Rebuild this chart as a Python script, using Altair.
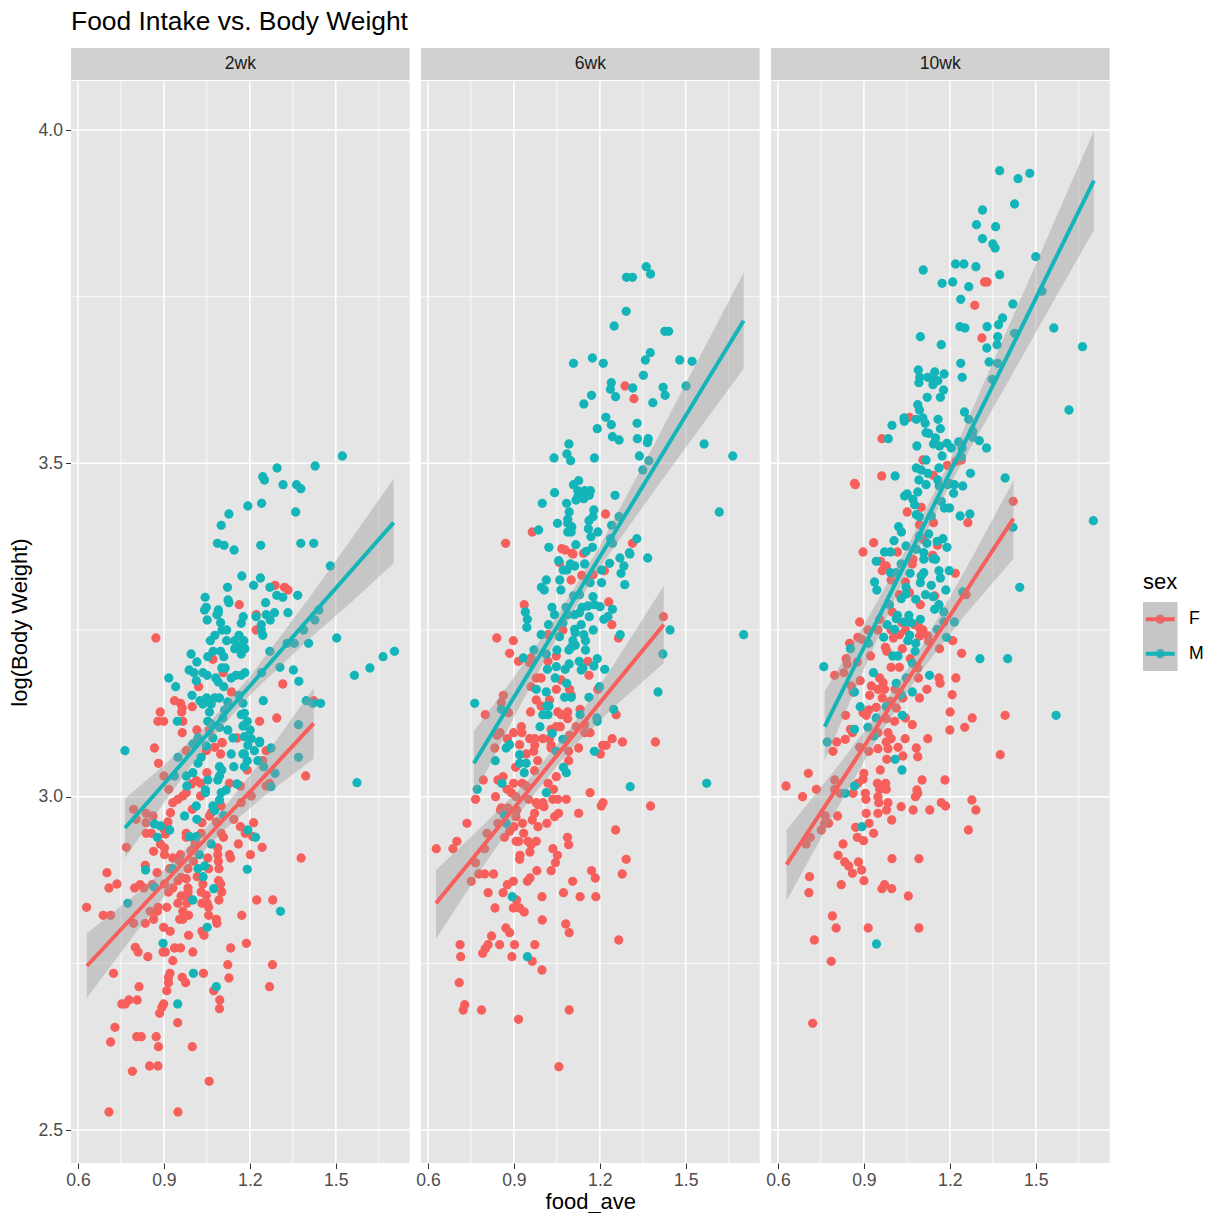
import altair as alt
import pandas as pd

TITLE = "Food Intake vs. Body Weight"
WEEKS = ["2wk", "6wk", "10wk"]
SEXES = ["F", "M"]
COLORS = ["#F65F5B", "#14B5B9"]
X_MAJOR = [0.6, 0.9, 1.2, 1.5]
X_MINOR = [0.75, 1.05, 1.35, 1.65]
Y_MAJOR = [2.5, 3.0, 3.5, 4.0]
Y_MINOR = [2.75, 3.25, 3.75]

m_2wk = [(1.523,3.511),(1.428,3.496),(1.295,3.493),(1.245,3.48),(1.251,3.475),(1.316,3.468),(1.363,3.468),(1.378,3.462),(1.193,3.436),(1.241,3.44),(1.127,3.424),(1.1,3.407),(1.36,3.427),(1.087,3.38),(1.11,3.377),(1.145,3.37),(1.238,3.377),(1.378,3.38),(1.423,3.38),(1.481,3.346),(1.172,3.331),(1.237,3.328),(1.213,3.317),(1.122,3.314),(1.27,3.314),(1.044,3.299),(1.294,3.302),(1.315,3.299),(1.367,3.302),(1.124,3.295),(1.127,3.291),(1.255,3.291),(1.048,3.284),(1.042,3.28),(1.09,3.28),(1.085,3.273),(1.09,3.276),(1.441,3.28),(1.333,3.276),(1.286,3.276),(1.257,3.273),(1.177,3.27),(1.222,3.27),(1.271,3.265),(1.051,3.265),(1.17,3.26),(1.098,3.261),(1.427,3.265),(1.24,3.258),(1.103,3.25),(1.119,3.25),(1.24,3.25),(1.388,3.25),(1.078,3.242),(1.245,3.242),(1.162,3.242),(1.062,3.234),(1.119,3.234),(1.147,3.234),(1.179,3.234),(1.503,3.238),(1.33,3.23),(1.355,3.23),(1.405,3.23),(1.147,3.222),(1.183,3.222),(1.162,3.225),(1.27,3.218),(0.995,3.214),(1.072,3.218),(1.098,3.218),(1.17,3.214),(1.053,3.21),(1.109,3.21),(1.705,3.218),(1.665,3.21),(1.015,3.202),(1.619,3.193),(1.565,3.182),(1.102,3.193),(1.114,3.193),(1.305,3.194),(1.352,3.19),(0.988,3.19),(1.005,3.186),(1.036,3.186),(1.051,3.182),(1.183,3.186),(1.241,3.186),(1.152,3.182),(1.17,3.182),(0.917,3.178),(1.081,3.178),(1.135,3.178),(1.013,3.174),(1.371,3.173),(1.09,3.172),(0.941,3.165),(1.109,3.165),(1.162,3.152),(0.998,3.152),
(1.026,3.144),(1.049,3.148),(1.077,3.148),(1.094,3.148),(1.036,3.139),(1.065,3.139),(1.059,3.127),(1.123,3.142),(1.176,3.14),(1.247,3.144),(1.397,3.144),(1.42,3.14),(1.447,3.14),(1.112,3.13),(1.17,3.123),(1.181,3.125),(0.947,3.113),(1.053,3.113),(1.106,3.118),(1.191,3.113),(1.37,3.108),(1.065,3.109),(1.176,3.106),(1.094,3.104),(1.123,3.1),(1.201,3.1),(1.019,3.088),(1.071,3.088),(1.141,3.088),(1.181,3.09),(1.205,3.087),(1.234,3.083),
(0.764,3.069),(0.949,3.059),(1.048,3.076),(1.001,3.079),(1.274,3.073),(1.193,3.077),(1.234,3.081),(1.135,3.064),(1.176,3.064),(1.181,3.064),(1.216,3.069),(1.03,3.059),(1.019,3.05),(1.191,3.054),(1.228,3.054),(1.144,3.045),(1.094,3.045),(1.181,3.045),(1.248,3.045),(1.37,3.059),(1.574,3.021),(1.102,3.04),(1.001,3.036),(0.978,3.031),(0.937,3.031),(1.288,3.035),(1.094,3.031),(1.088,3.025),(1.053,3.025),(1.155,3.019),(0.98,3.016),(1.274,3.015),(1.045,3.01),(1.117,3.01),(1.1,3.006),(1.045,3.006),(1.094,2.995),(1.071,2.986),(1.013,2.986),(0.972,2.971),(1.015,2.966),(1.077,2.979),(1.108,2.972),(0.867,2.959),(0.888,2.956),(0.92,2.95),(0.877,2.939),(0.99,2.94),(1.013,2.94),(1.193,2.95),(1.22,2.939),(1.065,2.929),(1.024,2.913),(0.836,2.89),(0.931,2.892),(1.019,2.892),(1.042,2.896),(1.191,2.891),(1.037,2.88),(0.867,2.864),(1.074,2.862),(0.774,2.84),(1.001,2.845),(1.307,2.828),(1.051,2.804),(0.897,2.78),(1.003,2.735),(1.083,2.715),(0.948,2.689)]

f_2wk = [(0.872,3.238),(1.163,3.288),(1.222,3.273),(1.222,3.25),(1.288,3.317),(1.321,3.314),(1.333,3.31),(1.071,3.206),(1.107,3.186),(1.021,3.165),(1.315,3.169),(1.136,3.157),(1.423,3.144),(0.937,3.144),(0.958,3.14),(0.964,3.133),(0.962,3.127),(0.999,3.135),(0.887,3.127),(0.879,3.113),(0.899,3.113),(0.966,3.113),(1.234,3.113),(1.294,3.118),(1.015,3.1),(0.964,3.096),(1.059,3.1),(1.103,3.081),(1.156,3.088),
(0.867,3.073),(0.881,3.05),(0.9,3.031),(0.978,3.069),(1.048,3.069),(1.077,3.074),(1.098,3.064),(1.103,3.081),(1.191,3.04),(1.257,3.069),(1.245,3.054),(1.395,3.031),(1.05,3.036),(1.013,3.024),(0.996,3.019),(1.028,3.02),(1.129,3.02),(1.167,3.016),(1.269,3.02),(1.257,3.016),(0.917,3.011),(0.978,3.006),(0.966,3.001),(0.949,2.996),(0.931,2.991),(1.028,3.001),(1.205,3.001),(1.17,2.991),(0.794,2.981),(0.838,2.975),(0.862,2.971),(0.923,2.976),(0.999,2.981),(1.065,2.976),(1.1,2.986),(1.059,2.971),(0.803,2.966),(0.838,2.961),(0.914,2.962),(1.033,2.961),(1.083,2.962),(1.144,2.966),(1.213,2.961),(1.167,2.955),(0.902,2.95),(0.905,2.944),(0.838,2.945),(0.856,2.945),(0.978,2.945),(0.978,2.939),(1.03,2.945),(1.1,2.945),(1.184,2.945),(1.21,2.94),(1.108,2.939),(1.009,2.934),(0.769,2.924),(0.888,2.929),(0.902,2.923),(1.009,2.928),(1.16,2.929),(1.243,2.924),(1.088,2.923),(0.995,2.919),(0.864,2.918),(0.902,2.913),(1.088,2.913),(1.129,2.913),(1.202,2.913),(1.379,2.908),(0.958,2.913),(0.931,2.908),(1.053,2.908),(1.133,2.908),(0.955,2.903),(1.09,2.903),(1.003,2.903),(1.092,2.892),(0.835,2.897),(0.92,2.892),(0.984,2.892),(1.056,2.892),(0.701,2.886),(0.876,2.886),(0.96,2.879),(1.016,2.88),(0.949,2.874),(0.978,2.877),(1.091,2.874),(0.736,2.869),(0.708,2.863),(0.798,2.863),(0.817,2.868),(0.83,2.863),(0.859,2.868),(1.036,2.869),(0.902,2.869),(0.931,2.863),(0.984,2.863),(1.098,2.869),(0.916,2.857),(0.984,2.857),(1.03,2.857),(1.102,2.857),(0.96,2.851),(1.048,2.852),(0.984,2.851),(1.092,2.845),(1.224,2.845),(1.28,2.845),(0.63,2.834),(0.949,2.84),(0.98,2.84),(1.033,2.84),(1.051,2.84),(0.91,2.834),(0.879,2.834),(1.056,2.834),(0.852,2.828),(0.877,2.828),(0.966,2.828),(0.688,2.822),(0.714,2.822),(0.986,2.822),(1.056,2.822),(1.172,2.822),(0.966,2.816),(0.955,2.816),(1.083,2.816),(0.794,2.81),(0.835,2.81),(0.864,2.816),(1.085,2.81),(0.899,2.804),(0.922,2.798),(1.033,2.798),(0.986,2.792),(1.04,2.792),(1.188,2.78),(0.8,2.774),(0.81,2.767),(0.844,2.76),(0.897,2.767),(0.905,2.767),(0.937,2.773),(0.958,2.773),(1.133,2.773),(1.001,2.767),(0.931,2.754),(1.123,2.748),(1.279,2.748),(0.724,2.735),(0.921,2.735),(0.916,2.729),(0.916,2.721),(1.038,2.735),(0.964,2.729),(0.976,2.721),(1.127,2.728),(0.813,2.715),(0.91,2.709),(1.269,2.715),(1.074,2.709),(1.095,2.695),(1.094,2.682),(0.807,2.695),(0.778,2.695),(0.753,2.689),(0.765,2.689),(0.899,2.689),(0.893,2.684),(0.885,2.675),(0.948,2.661),(0.729,2.654),(0.805,2.64),(0.821,2.64),(0.873,2.64),(0.714,2.632),(0.881,2.625),(0.999,2.625),(0.85,2.596),(0.879,2.596),(0.79,2.588),(1.058,2.573),(0.708,2.527),(0.949,2.527)]

m_6wk = [(1.362,3.795),(1.377,3.784),(1.293,3.779),(1.314,3.779),(1.292,3.728),(1.25,3.706),(1.427,3.698),(1.44,3.698),(1.376,3.666),(1.359,3.655),(1.479,3.655),(1.522,3.653),(1.108,3.65),(1.174,3.658),(1.212,3.65),(1.352,3.632),(1.24,3.621),(1.237,3.611),(1.315,3.613),(1.421,3.614),(1.501,3.616),(1.428,3.602),(1.255,3.6),(1.171,3.602),(1.144,3.589),(1.385,3.591),(1.221,3.569),(1.24,3.558),(1.33,3.56),(1.191,3.552),(1.244,3.54),(1.267,3.535),(1.331,3.537),(1.369,3.537),(1.366,3.531),(1.092,3.529),(1.564,3.529),(1.085,3.514),(1.04,3.508),(1.098,3.504),(1.181,3.508),(1.338,3.511),(1.664,3.511),(1.371,3.504),(1.35,3.49),(1.126,3.474),(1.108,3.468),(1.123,3.459),(1.147,3.459),(1.167,3.459),(1.042,3.456),(1.253,3.452),(1.163,3.452),(1.144,3.447),(1.117,3.445),(1.123,3.45),(0.999,3.44),(1.084,3.44),(1.617,3.427),(1.093,3.427),(1.179,3.43),(1.176,3.42),(1.162,3.414),(1.267,3.42),(1.088,3.416),(1.052,3.41),(1.088,3.41),(1.102,3.405),(1.241,3.407),(0.986,3.4),(1.16,3.402),(1.088,3.397),(1.1,3.397),(1.193,3.397),(1.169,3.39),(1.237,3.387),(1.329,3.387),(1.244,3.38),(1.116,3.378),(1.022,3.374),(1.174,3.374),(1.303,3.366),(1.152,3.368),
(1.305,3.364),(1.367,3.358),(1.27,3.358),(1.284,3.346),(1.056,3.354),(1.234,3.35),(1.147,3.349),(1.097,3.349),(1.112,3.346),(1.072,3.34),(1.085,3.34),(1.205,3.34),(1.274,3.335),(1.013,3.325),(1.06,3.325),(1.206,3.321),(1.166,3.321),(1.287,3.318),(0.996,3.314),(1.006,3.31),(1.064,3.31),(1.108,3.301),(1.129,3.303),(1.176,3.3),(1.033,3.284),(1.082,3.284),(1.138,3.284),(1.158,3.286),(1.181,3.288),(1.201,3.285),(1.244,3.281),(0.94,3.277),(1.042,3.273),(1.088,3.273),(1.112,3.273),(1.129,3.276),(1.163,3.27),(0.947,3.266),(1.228,3.27),(1.214,3.266),(1.021,3.258),(1.135,3.258),(1.071,3.261),(0.945,3.254),(1.112,3.251),(1.177,3.25),(1.445,3.25),(1.114,3.246),(1.271,3.243),(1.702,3.243),(0.995,3.243),(1.059,3.24),(1.144,3.243),(1.106,3.234),(1.15,3.234),(1.114,3.227),(1.1,3.224),(1.092,3.22),(1.15,3.22),(0.97,3.22),(1.05,3.22),(1.013,3.214),(1.42,3.214),(0.933,3.208),(1.191,3.207),(1.128,3.203),(1.093,3.199),(1.079,3.191),(1.048,3.195),(1.017,3.191),(1.141,3.193),(1.135,3.19),(1.179,3.196),(1.217,3.191),(1.044,3.178),(1.084,3.17),(1.199,3.165),(0.978,3.161),(1.013,3.157),(1.403,3.157),(1.162,3.149),(1.077,3.149),(1.1,3.149),(0.763,3.14),(1.015,3.136),(1.022,3.136),(0.856,3.131),(1.248,3.131),(1.131,3.123),(1.001,3.123),(1.019,3.123),(1.19,3.118),(1.191,3.113),(0.991,3.105),(1.034,3.095),(1.071,3.086),(0.885,3.078),(0.873,3.073),(1.048,3.068),(1.181,3.068),(0.92,3.063),(0.835,3.054),(0.92,3.05),(0.943,3.05),(1.073,3.044),(1.083,3.036),(0.936,3.036),(0.858,3.02),(1.573,3.02),(1.306,3.015),(0.772,3.011),(1.013,3.006),(0.867,2.972),(0.873,2.96),(0.894,2.85),(0.947,2.76)]

f_6wk = [(1.288,3.616),(1.319,3.597),(1.22,3.424),(0.964,3.397),(0.871,3.38),(1.314,3.38),(1.067,3.372),(1.079,3.37),(1.103,3.365),(1.143,3.365),
(1.106,3.364),(1.059,3.351),(1.216,3.339),(1.137,3.332),(1.1,3.325),(1.176,3.333),(1.231,3.292),(0.936,3.288),(1.422,3.27),(1.242,3.258),(1.071,3.25),(0.84,3.238),(0.898,3.234),(1.265,3.238),(1.019,3.243),(0.885,3.215),(1.048,3.211),(0.916,3.203),(0.96,3.208),(1.019,3.203),(0.955,3.201),(1.158,3.203),(1.162,3.182),(0.978,3.178),(0.995,3.178),(1.065,3.175),(0.96,3.165),(1.048,3.161),(1.094,3.161),(1.193,3.161),(1.1,3.152),(0.863,3.152),(0.978,3.145),(1.024,3.145),(0.856,3.141),(0.995,3.136),(0.881,3.126),(0.958,3.127),(0.8,3.123),(1.053,3.127),(1.131,3.131),(1.257,3.123),(1.065,3.123),(1.088,3.127),(1.088,3.117),(0.926,3.105),(1.03,3.101),(1.048,3.105),(1.062,3.105),(1.117,3.105),(1.147,3.108),(0.852,3.096),(0.841,3.092),(0.899,3.096),(0.928,3.096),(1.147,3.096),(1.166,3.096),(1.094,3.092),(0.877,3.087),(0.955,3.087),(0.973,3.087),(1.001,3.087),(1.024,3.087),(1.243,3.087),(1.279,3.082),(1.394,3.082),(0.92,3.078),(0.973,3.077),(1.03,3.077),(1.21,3.077),(1.222,3.077),(0.833,3.073),(1.03,3.073),(0.969,3.068),(1.091,3.068),(1.126,3.073),(0.943,3.064),(1.202,3.064),(0.983,3.054),(1.091,3.054),(0.906,3.044),(0.972,3.039),(1.048,3.03),(0.862,3.03),(0.844,3.025),(0.793,3.025),(0.899,3.02),(0.929,3.02),(1.019,3.02),(0.876,3.011),(0.943,3.016),(1.038,3.011),(0.891,3.006),(1.166,3.006),(0.836,3.0),(0.766,2.996),(0.907,3.0),(0.951,2.996),(1.036,2.996),(1.053,2.996),(1.083,2.996),(0.978,2.991),(1.001,2.991),(1.211,2.991),(1.205,2.986),(1.377,2.986),(0.856,2.983),(0.879,2.983),(0.984,2.988),(1.005,2.985),
(0.736,2.96),(0.853,2.98),(0.879,2.98),(0.91,2.98),(0.972,2.975),(1.042,2.97),(1.056,2.975),(1.126,2.975),(0.907,2.97),(0.964,2.965),(0.844,2.96),(0.93,2.96),(0.984,2.955),(1.015,2.96),(0.9,2.955),(0.885,2.948),(0.806,2.945),(0.934,2.945),(1.255,2.95),(1.087,2.939),(0.867,2.939),(0.701,2.933),(0.908,2.933),(0.917,2.933),(0.949,2.933),(0.978,2.933),(0.96,2.928),(1.091,2.928),(0.629,2.922),(0.687,2.922),(0.798,2.922),(1.036,2.922),(0.956,2.917),(1.052,2.912),(0.921,2.912),(0.92,2.906),(1.292,2.906),(1.045,2.901),(0.766,2.901),(0.777,2.884),(0.798,2.884),(0.829,2.884),(0.98,2.889),(1.03,2.889),(1.171,2.889),(1.278,2.884),(0.956,2.878),(0.947,2.873),(1.184,2.878),(0.751,2.873),(0.898,2.873),(0.877,2.868),(1.105,2.873),(0.81,2.856),(0.862,2.856),(1.073,2.856),(0.998,2.85),(1.131,2.85),(1.186,2.85),(0.909,2.845),(0.834,2.833),(0.898,2.833),(0.92,2.833),(0.936,2.827),(0.999,2.815),(1.081,2.809),(0.872,2.803),(0.885,2.796),(1.093,2.796),(0.822,2.791),(1.266,2.785),(0.712,2.778),(0.81,2.778),(0.85,2.778),(0.902,2.778),(0.973,2.778),(0.8,2.772),(0.791,2.765),(0.714,2.76),(0.893,2.76),(0.964,2.753),(0.998,2.74),(0.709,2.721),(0.728,2.688),(0.723,2.68),(0.787,2.68),(1.093,2.68),(0.916,2.666),(1.057,2.595)]

m_10wk = [(1.374,3.939),(1.438,3.927),(1.479,3.935),(1.426,3.889),(1.314,3.88),(1.293,3.858),(1.36,3.855),(1.314,3.837),(1.35,3.829),(1.358,3.823),(1.5,3.81),(1.22,3.799),(1.249,3.799),(1.291,3.795),(1.107,3.79),(1.374,3.783),(1.21,3.772),(1.173,3.77),(1.266,3.765),(1.522,3.758),(1.238,3.746),(1.42,3.739),(1.384,3.718),(1.37,3.708),(1.235,3.705),(1.253,3.703),(1.33,3.705),(1.563,3.703),(1.426,3.695),(1.367,3.69),(1.097,3.69),(1.17,3.678),(1.365,3.678),(1.329,3.673),(1.663,3.675),(1.238,3.65),(1.337,3.652),(1.367,3.65),(1.09,3.64),(1.147,3.637),(1.18,3.634),(1.095,3.629),(1.123,3.629),(1.243,3.629),(1.348,3.626),(1.092,3.621),(1.141,3.625),(1.158,3.624),(1.141,3.618),(1.178,3.61),(1.121,3.599),(1.167,3.599),(1.088,3.588),(1.094,3.58),(1.616,3.58),(1.251,3.577),(1.04,3.568),(1.041,3.563),(1.083,3.566),(1.106,3.568),(1.114,3.56),(1.159,3.566),(1.266,3.566),(1.167,3.552),(0.998,3.557),(1.117,3.546),(1.126,3.545),(1.28,3.548),(0.985,3.537),(1.15,3.538),(1.28,3.539),(1.303,3.534),(1.231,3.532),(1.19,3.53),(1.143,3.529),(1.164,3.526),(1.085,3.526),(1.205,3.523),(1.243,3.523),(1.328,3.523),(1.173,3.511),(1.117,3.505),(1.24,3.51),(1.083,3.493),(1.1,3.49),(1.123,3.485),(1.162,3.493),(1.272,3.485),(1.009,3.481),(1.393,3.478),(1.092,3.475),(1.158,3.475),(1.199,3.47),
(1.088,3.457),(1.042,3.451),(1.051,3.454),(1.117,3.468),(1.163,3.466),(1.193,3.468),(1.216,3.468),(1.245,3.466),(1.213,3.455),(1.071,3.446),(1.077,3.438),(1.17,3.443),(1.181,3.433),(1.199,3.433),(1.083,3.423),(1.094,3.42),(1.135,3.421),(1.236,3.421),(1.27,3.424),(1.021,3.405),(1.031,3.397),(1.42,3.404),(1.126,3.394),(1.094,3.391),(1.701,3.414),(1.005,3.384),(1.176,3.387),(1.156,3.383),(1.12,3.38),(1.047,3.376),(1.19,3.374),(0.972,3.367),(0.993,3.367),(1.083,3.371),(1.109,3.366),(1.109,3.356),(0.943,3.353),(1.141,3.357),(1.15,3.356),(1.03,3.349),(1.162,3.339),(1.198,3.339),(0.993,3.336),(1.013,3.336),(1.061,3.335),(1.109,3.336),(1.1,3.331),(1.167,3.328),(0.937,3.322),(1.097,3.321),(1.135,3.317),(1.047,3.314),(1.444,3.314),(0.945,3.31),(1.186,3.31),(1.245,3.307),(1.047,3.304),(1.03,3.297),(1.115,3.303),(1.141,3.3),(1.081,3.296),(0.989,3.288),(1.162,3.288),(1.147,3.281),(1.179,3.277),(1.017,3.272),(1.013,3.267),(1.057,3.272),(1.097,3.266),(1.042,3.262),(1.065,3.261),(1.216,3.262),(1.179,3.262),(0.981,3.258),(1.007,3.251),(1.156,3.251),(0.969,3.239),(1.06,3.242),(1.053,3.234),(1.188,3.239),(1.081,3.23),(0.916,3.23),(0.853,3.222),(1.079,3.218),(1.001,3.211),(1.019,3.211),(1.305,3.207),(1.402,3.207),(1.069,3.2),(0.76,3.195),(0.933,3.186),(1.129,3.182),(1.048,3.178),(1.013,3.17),(0.867,3.157),(1.069,3.157),(1.03,3.153),(0.887,3.135),(0.978,3.135),(1.034,3.122),(0.943,3.118),(1.571,3.122),(0.914,3.104),(0.867,3.101),(0.935,3.091),(0.772,3.082),(1.009,3.056),(1.033,3.04),(0.867,3.016),(0.835,3.005),(0.893,2.955),(0.944,2.779)]

f_10wk = [(1.321,3.772),(1.33,3.772),(1.287,3.737),(1.312,3.688),(1.059,3.569),(0.963,3.537),(1.106,3.505),(1.24,3.505),(1.222,3.503),(1.191,3.497),(1.142,3.482),(0.962,3.481),(0.867,3.47),
(0.87,3.468),(1.421,3.443),(1.051,3.427),(1.1,3.434),(1.094,3.408),(1.263,3.411),(1.143,3.411),(0.934,3.381),(1.106,3.386),(1.157,3.377),(0.897,3.367),(1.017,3.367),(1.14,3.362),(1.071,3.356),(1.069,3.349),(0.958,3.353),(0.978,3.346),(0.964,3.339),(1.219,3.335),(0.995,3.325),(1.045,3.322),(1.024,3.303),(1.059,3.306),(1.257,3.303),(1.147,3.301),(1.097,3.288),(0.999,3.277),(0.955,3.266),(0.885,3.262),(1.077,3.258),(1.094,3.253),(1.106,3.25),(1.033,3.261),(0.914,3.25),(0.949,3.25),(0.995,3.25),(1.045,3.25),(0.879,3.239),(0.893,3.236),(1.024,3.243),(1.003,3.238),(1.094,3.241),(1.123,3.241),(0.85,3.23),(1.21,3.234),(0.975,3.224),(0.98,3.218),(1.034,3.222),(1.126,3.233),(1.164,3.222),(0.923,3.211),(1.241,3.215),(0.838,3.207),(0.842,3.199),(0.877,3.202),(1.062,3.207),(0.995,3.194),(1.024,3.194),(1.088,3.193),(0.798,3.182),(0.83,3.186),(0.887,3.174),(0.955,3.178),(0.967,3.171),(1.162,3.178),(1.166,3.17),(1.09,3.178),(1.221,3.178),(0.856,3.166),(0.926,3.166),(0.949,3.161),(0.972,3.161),(0.862,3.157),(0.92,3.152),(0.964,3.148),(1.12,3.161),(1.009,3.161),(1.208,3.153),(1.094,3.148),(1.036,3.148),(0.992,3.143),(0.943,3.134),(0.917,3.13),(0.897,3.126),(0.908,3.122),(1.013,3.133),(1.201,3.127),(1.393,3.122),(0.836,3.122),(1.278,3.118),(0.978,3.117),(1.007,3.113),(1.045,3.118),(1.069,3.108),(1.252,3.104),(1.2,3.1),(0.853,3.101),(0.86,3.096),(0.949,3.096),(0.984,3.096),(0.835,3.086),(0.805,3.082),(1.123,3.087),(0.995,3.087),(1.044,3.087),(0.978,3.082),(0.792,3.068),(0.885,3.074),(0.949,3.072),(0.984,3.072),(1.019,3.074),(1.083,3.073),(0.917,3.068),(1.376,3.063),(1.036,3.061),(1.088,3.06),(0.98,3.056),
(0.706,3.035),(0.957,3.04),(0.9,3.035),(0.897,3.026),(0.798,3.025),(1.103,3.025),(1.183,3.025),(0.628,3.016),(0.734,3.011),(0.798,3.011),(0.947,3.02),(0.976,3.02),(0.879,3.02),(0.978,3.011),(0.955,3.011),(1.085,3.01),(1.088,3.005),(0.686,3.0),(0.817,3.005),(0.862,3.005),(0.905,3.005),(1.08,3.0),(0.949,3.0),(1.277,2.995),(0.907,2.996),(0.984,2.991),(0.952,2.991),(1.17,2.991),(1.185,2.986),(1.03,2.985),(0.979,2.98),(1.072,2.98),(1.13,2.98),(1.291,2.98),(0.908,2.975),(0.949,2.975),(0.765,2.971),(0.808,2.971),(0.997,2.965),(0.777,2.96),(0.763,2.96),(0.918,2.96),(0.871,2.954),(0.751,2.95),(1.265,2.95),(0.934,2.945),(0.713,2.939),(0.877,2.939),(0.899,2.934),(0.698,2.929),(0.827,2.929),(0.81,2.912),(0.998,2.907),(1.092,2.907),(0.833,2.902),(0.847,2.896),(0.881,2.902),(0.892,2.89),(0.86,2.885),(0.71,2.88),(0.9,2.874),(0.821,2.868),(0.972,2.868),(0.963,2.862),(0.997,2.862),(0.708,2.856),(1.055,2.851),(0.79,2.821),(0.803,2.803),(0.915,2.803),(1.092,2.803),(0.727,2.785),(0.786,2.753),(0.721,2.66)]

POINTS = {"2wk": {"F": f_2wk, "M": m_2wk}, "6wk": {"F": f_6wk, "M": m_6wk}, "10wk": {"F": f_10wk, "M": m_10wk}}

fit_2wk_f = ([.631,.8,.95,1.1,1.25,1.423],[2.746,2.824,2.893,2.962,3.03,3.11],[2.698,2.795,2.877,2.946,3.001,3.057],[2.795,2.853,2.909,2.978,3.059,3.163])
fit_2wk_m = ([.764,.9,1.05,1.2,1.4,1.55,1.702],[2.953,3.019,3.093,3.166,3.264,3.337,3.411],[2.908,2.991,3.079,3.152,3.234,3.29,3.35],[2.997,3.047,3.107,3.18,3.294,3.384,3.477])
fit_6wk_f = ([.628,.8,.95,1.1,1.25,1.423],[2.84,2.93,3.009,3.088,3.167,3.258],[2.787,2.9,2.993,3.072,3.135,3.2],[2.89,2.96,3.025,3.104,3.199,3.316])
fit_6wk_m = ([.76,.9,1.05,1.2,1.4,1.55,1.702],[3.05,3.149,3.254,3.36,3.501,3.607,3.714],[3.0,3.119,3.238,3.344,3.465,3.553,3.642],[3.098,3.179,3.27,3.376,3.537,3.661,3.786])
fit_10wk_f = ([.63,.8,.95,1.1,1.25,1.422],[2.898,3.009,3.108,3.206,3.304,3.417],[2.844,2.977,3.09,3.188,3.271,3.357],[2.95,3.041,3.126,3.224,3.337,3.474])
fit_10wk_m = ([.763,.9,1.05,1.2,1.4,1.55,1.703],[3.105,3.224,3.355,3.486,3.66,3.791,3.924],[3.054,3.191,3.337,3.468,3.62,3.734,3.85],[3.158,3.257,3.373,3.504,3.7,3.848,3.999])
FITS = {"2wk": {"F": fit_2wk_f, "M": fit_2wk_m}, "6wk": {"F": fit_6wk_f, "M": fit_6wk_m}, "10wk": {"F": fit_10wk_f, "M": fit_10wk_m}}

FONT = "Liberation Sans"
W = 338.67
H = 1082
XDOM = [0.5756, 1.758]
YDOM = [2.4505, 4.0735]
xs = alt.Scale(domain=XDOM, nice=False, zero=False)
ys = alt.Scale(domain=YDOM, nice=False, zero=False)
color = alt.Color("sex:N", scale=alt.Scale(domain=SEXES, range=COLORS), legend=None)


def panel(week, idx):
    pts = pd.DataFrame([{"food": a, "logw": b, "sex": s} for s in SEXES for a, b in POINTS[week][s]])
    fit = pd.DataFrame([{"food": a, "fit": b, "lo": c, "hi": d, "sex": s}
                        for s in SEXES for a, b, c, d in zip(*FITS[week][s])])
    x_axis = alt.Axis(values=X_MAJOR, format=".1f", grid=False, domain=False, tickColor="#333333",
                      tickSize=5.5, tickWidth=1, labelColor="#4D4D4D", labelFontSize=17.6,
                      labelFont=FONT, labelPadding=3,
                      title="food_ave" if idx == 1 else "", titleFont=FONT, titleFontSize=22,
                      titleFontWeight="normal", titleColor="#000000", titlePadding=2)
    y_axis = None
    if idx == 0:
        y_axis = alt.Axis(values=Y_MAJOR, format=".1f", grid=False, domain=False, tickColor="#333333",
                          tickSize=5.5, tickWidth=1, labelColor="#4D4D4D", labelFontSize=17.6,
                          labelFont=FONT, labelPadding=3, title="log(Body Weight)", titleFont=FONT,
                          titleFontSize=22, titleFontWeight="normal", titleColor="#000000", titlePadding=7)
    ex = lambda f: alt.X(f, scale=xs, axis=x_axis)
    ey = lambda f: alt.Y(f, scale=ys, axis=y_axis)
    gx_minor = alt.Chart(pd.DataFrame({"v": X_MINOR})).mark_rule(color="white", strokeWidth=0.75).encode(x=ex("v:Q"))
    gx_major = alt.Chart(pd.DataFrame({"v": X_MAJOR})).mark_rule(color="white", strokeWidth=1.5).encode(x=ex("v:Q"))
    gy_minor = alt.Chart(pd.DataFrame({"v": Y_MINOR})).mark_rule(color="white", strokeWidth=0.75).encode(y=ey("v:Q"))
    gy_major = alt.Chart(pd.DataFrame({"v": Y_MAJOR})).mark_rule(color="white", strokeWidth=1.5).encode(y=ey("v:Q"))
    dots = alt.Chart(pts).mark_circle(size=86, opacity=1).encode(x=ex("food:Q"), y=ey("logw:Q"), color=color)
    band = alt.Chart(fit).mark_area(color="#999999", opacity=0.4).encode(
        x=ex("food:Q"), y=ey("lo:Q"), y2="hi:Q", detail="sex:N")
    line = alt.Chart(fit).mark_line(strokeWidth=4, strokeCap="butt").encode(
        x=ex("food:Q"), y=ey("fit:Q"), color=color)
    return alt.layer(gx_minor, gx_major, gy_minor, gy_major, dots, band, line).properties(
        width=W, height=H, view=alt.ViewBackground(fill="#E5E5E5", strokeWidth=0))


def strip(week):
    return alt.Chart(pd.DataFrame({"week": [week]})).mark_text(
        font=FONT, fontSize=17.6, color="#1A1A1A", baseline="middle").encode(text="week:N").properties(
        width=W, height=32, view=alt.ViewBackground(fill="#D1D1D1", strokeWidth=0))


def column(i, week):
    return alt.vconcat(strip(week), panel(week, i), spacing=0)


KEY_START = [0.08, 0.08]
KEY_END = [0.92, 0.92]
key_df = pd.DataFrame({"sex": SEXES, "a": KEY_START, "b": KEY_END})
kx = alt.Scale(domain=[0, 1], nice=False, zero=False)
ky = alt.Scale(domain=SEXES, paddingInner=0, paddingOuter=0)
ky_enc = alt.Y("sex:N", scale=ky, axis=alt.Axis(orient="right", title=None, domain=False, ticks=False, labelAngle=0,
                                                labelFont=FONT, labelFontSize=17.6, labelColor="#000000", labelPadding=11))
key_bg = alt.Chart(key_df).mark_rect(color="#999999", opacity=0.4).encode(y=ky_enc)
key_dot = alt.Chart(key_df.assign(mid=[0.5, 0.5])).mark_circle(size=86, opacity=1).encode(
    x=alt.X("mid:Q", scale=kx, axis=None), y=ky_enc, color=color)
key_line = alt.Chart(key_df).mark_rule(strokeWidth=4).encode(
    x=alt.X("a:Q", scale=kx, axis=None), x2="b:Q", y=ky_enc, color=color)
key = alt.layer(key_dot, key_bg, key_line).properties(
    width=34.5, height=69, view=alt.ViewBackground(fill="#E5E5E5", strokeWidth=0),
    title=alt.Title("sex", anchor="start", font=FONT, fontSize=22, fontWeight="normal", color="#000000", offset=8))
spacer = alt.Chart(pd.DataFrame({"t": [""]})).mark_text().encode(text="t:N").properties(
    width=34.5, height=523, view=alt.ViewBackground(strokeWidth=0))
legend_col = alt.vconcat(spacer, key, spacing=0)

row = alt.hconcat(column(0, WEEKS[0]), column(1, WEEKS[1]), column(2, WEEKS[2]), spacing=4)
chart = alt.hconcat(row, legend_col, spacing=32).properties(
    padding=0,
    title=alt.Title(TITLE, anchor="start", font=FONT, fontSize=26.4, fontWeight="normal", color="#000000", offset=13, dx=63),
).configure_view(strokeWidth=0).configure_concat(spacing=0)

chart.save("out.html", embed_options={"renderer": "svg", "actions": False})
